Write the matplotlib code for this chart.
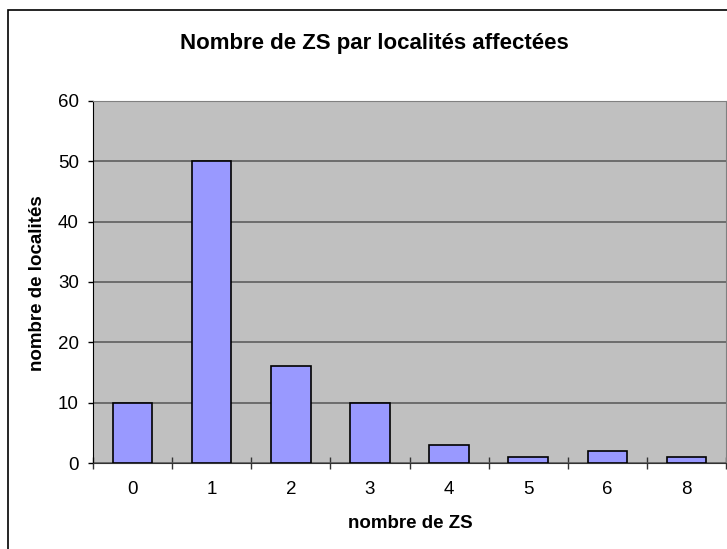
import numpy as np
import matplotlib.pyplot as plt
from matplotlib.patches import Rectangle

plt.rcParams['font.family'] = ['Liberation Sans', 'DejaVu Sans']

categories = ['0', '1', '2', '3', '4', '5', '6', '8']
localites = [10, 50, 16, 10, 3, 1, 2, 1]
yticks = [0, 10, 20, 30, 40, 50, 60]

W, H = 727, 549
fig = plt.figure(figsize=(W / 100, H / 100), dpi=100)

# outer chart frame, running off the right and bottom edges
fig.patches.append(Rectangle((8 / W, -0.05), 1.2, 1 - 10 / H + 0.05,
                             transform=fig.transFigure, fill=False,
                             edgecolor='black', linewidth=1.2, zorder=0))

left, right, top, bottom = 93, 726, 101, 463
ax = fig.add_axes([left / W, 1 - bottom / H, (right - left) / W, (bottom - top) / H])
ax.set_facecolor('#c0c0c0')

x = np.arange(len(categories))
ax.bar(x, localites, width=0.5, color='#9999ff', edgecolor='black',
       linewidth=1.2, zorder=3)

ax.set_xlim(-0.5, len(categories) - 0.5)
ax.set_ylim(0, 60)
ax.set_yticks(yticks)
ax.yaxis.grid(True, color='#555555', linewidth=1.1, zorder=1)
ax.set_axisbelow(True)

ax.set_xticks(x)
ax.set_xticklabels(categories, fontsize=13.5)
ax.tick_params(axis='x', length=0, pad=13)
# category boundary ticks crossing the x axis
ax.set_xticks(np.arange(-0.5, len(categories)), minor=True)
ax.tick_params(axis='x', which='minor', length=8, direction='inout', width=1, color='#333333')
ax.tick_params(axis='y', length=3.6, width=1, labelsize=13.5, pad=6.5)

for s in ['top', 'right']:
    ax.spines[s].set_color('#808080')
ax.spines['left'].set_color('black')
ax.spines['bottom'].set_color('#333333')

fig.text(410 / W, 1 - 523 / H, 'nombre de ZS', ha='center', va='center',
         fontsize=13.5, fontweight='bold')
fig.text(38 / W, 1 - 283 / H, 'nombre de localités', ha='center', va='center',
         rotation=90, fontsize=13.5, fontweight='bold')
fig.text(374 / W, 1 - 44 / H, 'Nombre de ZS par localités affectées',
         ha='center', va='center', fontsize=16, fontweight='bold')

fig.savefig('out.png', dpi=100)
